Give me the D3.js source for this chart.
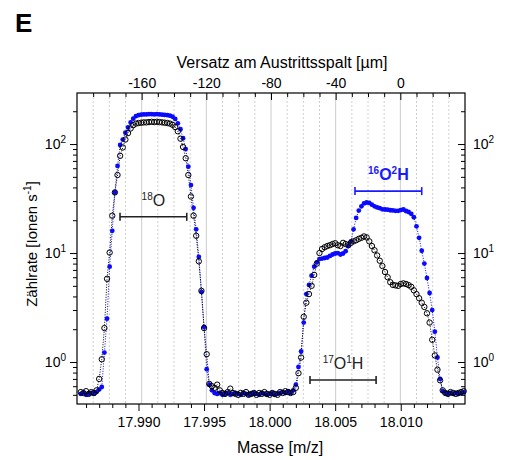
<!DOCTYPE html>
<html>
<head>
<meta charset="utf-8">
<script src="https://cdn.jsdelivr.net/npm/d3@7"></script>
<style>
body { margin: 0; background: #fff; }
text { font-family: "Liberation Sans", Arial, sans-serif; fill: #000; }
</style>
</head>
<body>
<svg id="chart" width="508" height="460"></svg>
<script>
// scan positions (mass, m/z)
var masses = [
  17.9856, 17.9858, 17.9860, 17.9862, 17.9864, 17.9866, 17.9868, 17.9870, 17.9872, 17.9874,
  17.9876, 17.9878, 17.9880, 17.9882, 17.9884, 17.9886, 17.9888, 17.9890, 17.9892, 17.9894,
  17.9896, 17.9898, 17.9900, 17.9902, 17.9904, 17.9906, 17.9908, 17.9910, 17.9912, 17.9914,
  17.9916, 17.9918, 17.9920, 17.9922, 17.9924, 17.9926, 17.9928, 17.9930, 17.9932, 17.9934,
  17.9936, 17.9938, 17.9940, 17.9942, 17.9944, 17.9946, 17.9948, 17.9950, 17.9952, 17.9954,
  17.9956, 17.9958, 17.9960, 17.9962, 17.9964, 17.9966, 17.9968, 17.9970, 17.9972, 17.9974,
  17.9976, 17.9978, 17.9980, 17.9982, 17.9984, 17.9986, 17.9988, 17.9990, 17.9992, 17.9994,
  17.9996, 17.9998, 18.0000, 18.0002, 18.0004, 18.0006, 18.0008, 18.0010, 18.0012, 18.0014,
  18.0016, 18.0018, 18.0020, 18.0022, 18.0024, 18.0026, 18.0028, 18.0030, 18.0032, 18.0034,
  18.0036, 18.0038, 18.0040, 18.0042, 18.0044, 18.0046, 18.0048, 18.0050, 18.0052, 18.0054,
  18.0056, 18.0058, 18.0060, 18.0062, 18.0064, 18.0066, 18.0068, 18.0070, 18.0072, 18.0074,
  18.0076, 18.0078, 18.0080, 18.0082, 18.0084, 18.0086, 18.0088, 18.0090, 18.0092, 18.0094,
  18.0096, 18.0098, 18.0100, 18.0102, 18.0104, 18.0106, 18.0108, 18.0110, 18.0112, 18.0114,
  18.0116, 18.0118, 18.0120, 18.0122, 18.0124, 18.0126, 18.0128, 18.0130, 18.0132, 18.0134,
  18.0136, 18.0138, 18.0140, 18.0142, 18.0144, 18.0146, 18.0148
]

// blue filled dots
var blueCounts = [
  0.51, 0.52, 0.50, 0.51, 0.52, 0.51, 0.53, 0.56, 0.59, 1.22,
  2.5, 7.5, 16, 36, 63, 98, 110, 127, 142, 158,
  171, 180, 184, 186, 187, 187, 188, 188, 187, 188,
  187, 186, 185, 184, 182, 178, 170, 155, 137, 113,
  90, 62, 42, 26, 16.5, 9.2, 4.4, 2.1, 0.86, 0.62,
  0.55, 0.52, 0.51, 0.52, 0.50, 0.51, 0.52, 0.50, 0.51, 0.52,
  0.51, 0.50, 0.52, 0.51, 0.50, 0.51, 0.52, 0.51, 0.50, 0.52,
  0.51, 0.50, 0.51, 0.52, 0.50, 0.51, 0.52, 0.53, 0.52, 0.54,
  0.52, 0.55, 0.62, 0.9, 1.25, 2.3, 4.2, 5.1, 6.2, 7.5,
  8.2, 8.8, 8.9, 9.0, 9.1, 9.4, 9.7, 9.9, 10.0, 9.7,
  9.9, 10.4, 11.6, 12.8, 16.5, 21, 24.5, 26.8, 28.5, 29.1,
  28.8, 27.8, 26.8, 26.2, 25.8, 25.2, 25.1, 25.0, 24.7, 24.6,
  24.4, 24.4, 24.8, 25.1, 24.3, 23.8, 22.9, 21.3, 17.6, 13.8,
  10.5, 8.0, 5.9, 4.3, 3.0, 1.9, 1.1, 0.7, 0.54, 0.52,
  0.51, 0.52, 0.51, 0.52, 0.51, 0.52, 0.53
]

// black open circles
var blackCounts = [
  0.53, 0.52, 0.54, 0.51, 0.53, 0.52, 0.55, 0.70, 1.06, 2.05,
  5.8, 10.1, 22, 36, 52, 78, 93, 110, 126, 139,
  149, 154, 156, 157, 158, 158, 159, 160, 159, 160,
  159, 158, 157, 156, 154, 150, 143, 131, 112, 94,
  74, 52, 33, 22, 14.4, 8.4, 4.5, 2.05, 1.18, 0.63,
  0.60, 0.58, 0.62, 0.55, 0.52, 0.51, 0.53, 0.57, 0.52, 0.51,
  0.50, 0.52, 0.51, 0.53, 0.50, 0.51, 0.52, 0.50, 0.52, 0.51,
  0.53, 0.51, 0.50, 0.52, 0.51, 0.50, 0.53, 0.52, 0.54, 0.53,
  0.52, 0.53, 0.58, 0.79, 1.1, 2.6, 3.5, 4.2, 5.0, 6.3,
  8.0, 10.0, 10.9, 11.3, 11.6, 11.8, 12.1, 12.3, 11.8, 11.6,
  12.4, 12.1, 11.8, 12.4, 12.8, 13.1, 13.5, 13.8, 14.2, 13.9,
  12.8, 11.6, 10.6, 9.5, 8.5, 7.6, 6.7, 6.0, 5.4, 5.1,
  5.05, 5.0, 5.2, 5.27, 5.2, 5.08, 4.9, 4.55, 4.2, 3.85,
  3.5, 3.2, 2.8, 2.3, 1.6, 1.15, 0.85, 0.68, 0.55, 0.52,
  0.51, 0.53, 0.52, 0.51, 0.52, 0.53, 0.54
]

var massTicks = [17.990, 17.995, 18.000, 18.005, 18.010]
var massMinorTicks = [17.986, 17.987, 17.988, 17.989, 17.991, 17.992, 17.993, 17.994,
  17.996, 17.997, 17.998, 17.999, 18.001, 18.002, 18.003, 18.004,
  18.006, 18.007, 18.008, 18.009, 18.011, 18.012, 18.013, 18.014]
var offsetTicks = [-160, -120, -80, -40, 0]
var offsetMinorTicks = [-190, -180, -170, -150, -140, -130, -110, -100, -90,
  -70, -60, -50, -30, -20, -10, 10, 20, 30]
var countTicks = [1, 10, 100]
var countMinorTicks = [0.5, 0.6, 0.7, 0.8, 0.9, 2, 3, 4, 5, 6, 7, 8, 9,
  20, 30, 40, 50, 60, 70, 80, 90, 200]

// peak markers: label parts [sup, base, sup, base], mass range, level
var peakNames = [["18", "O", "", ""], ["16", "O", "2", "H"], ["17", "O", "1", "H"]]
var peakFrom = [17.98859, 18.00651, 18.00308]
var peakTo = [17.99368, 18.01160, 18.00812]
var peakLevel = [21.5, 37, 0.684]
var peakColor = ["#222", "#1a1aff", "#222"]
var peakBold = [false, true, false]

var svg = d3.select("#chart")
var L = 77, R = 465, T = 93, B = 404
var blue = "#0a0aff"

var x = d3.scaleLinear().domain([17.98531, 18.01490]).range([L, R])
var xTop = d3.scaleLinear().domain([-200, 40]).range([L, R])
var y = d3.scaleLog().domain([0.412, 294]).range([B, T])

// vertical grid at the offset ticks
svg.append("g").selectAll("line").data(offsetMinorTicks).enter().append("line")
  .attr("x1", d => xTop(d)).attr("x2", d => xTop(d))
  .attr("y1", T).attr("y2", B)
  .attr("stroke", "#cfcfcf").attr("stroke-width", 1).attr("stroke-dasharray", "2,2")
svg.append("g").selectAll("line").data(offsetTicks).enter().append("line")
  .attr("x1", d => xTop(d)).attr("x2", d => xTop(d))
  .attr("y1", T).attr("y2", B)
  .attr("stroke", "#cccccc").attr("stroke-width", 1)

// bottom axis (mass)
svg.append("g").attr("transform", "translate(0," + B + ")")
  .call(d3.axisBottom(x).tickValues(massMinorTicks).tickFormat("").tickSize(4).tickSizeOuter(0))
svg.append("g").attr("transform", "translate(0," + B + ")")
  .call(d3.axisBottom(x).tickValues(massTicks).tickFormat(d3.format(".3f")).tickSize(7).tickSizeOuter(0).tickPadding(6))
  .selectAll("text").style("font-size", "14px")

// top axis (offset), ticks pointing inside
svg.append("g").attr("transform", "translate(0," + T + ")")
  .call(d3.axisTop(xTop).tickValues(offsetMinorTicks).tickFormat("").tickSize(-4).tickSizeOuter(0))
svg.append("g").attr("transform", "translate(0," + T + ")")
  .call(d3.axisTop(xTop).tickValues(offsetTicks).tickFormat(d => String(d)).tickSize(-7).tickSizeOuter(0).tickPadding(5))
  .selectAll("text").style("font-size", "14px")

// left axis
svg.append("g").attr("transform", "translate(" + L + ",0)")
  .call(d3.axisLeft(y).tickValues(countMinorTicks).tickFormat("").tickSize(4).tickSizeOuter(0))
svg.append("g").attr("transform", "translate(" + L + ",0)")
  .call(d3.axisLeft(y).tickValues(countTicks).tickFormat("").tickSize(7).tickSizeOuter(0))
// right axis, ticks pointing inside
svg.append("g").attr("transform", "translate(" + R + ",0)")
  .call(d3.axisRight(y).tickValues(countMinorTicks).tickFormat("").tickSize(-4).tickSizeOuter(0))
svg.append("g").attr("transform", "translate(" + R + ",0)")
  .call(d3.axisRight(y).tickValues(countTicks).tickFormat("").tickSize(-7).tickSizeOuter(0))

svg.selectAll(".domain").remove()
svg.selectAll(".tick line").attr("stroke", "#000")

function powerLabel(sel) {
  sel.append("tspan").text("10").style("font-size", "14px")
  sel.append("tspan").text(d => Math.round(Math.log10(d)))
    .style("font-size", "10px").attr("dy", -6)
}
svg.append("g").selectAll("text").data(countTicks).enter().append("text")
  .attr("x", 66).attr("y", d => y(d) + 5).attr("text-anchor", "end")
  .call(powerLabel)
svg.append("g").selectAll("text").data(countTicks).enter().append("text")
  .attr("x", 473).attr("y", d => y(d) + 5).attr("text-anchor", "start")
  .call(powerLabel)

// frame
svg.append("rect").attr("x", L).attr("y", T).attr("width", R - L).attr("height", B - T)
  .attr("fill", "none").attr("stroke", "#000").attr("stroke-width", 1.2)

// data
var line = d3.line().x(d => x(d[0])).y(d => y(d[1]))
var blueData = masses.map((m, i) => [m, blueCounts[i]])
var blackData = masses.map((m, i) => [m, blackCounts[i]])

svg.append("path").datum(blueData).attr("d", line)
  .attr("fill", "none").attr("stroke", blue).attr("stroke-width", 1).attr("stroke-dasharray", "1,1.5")
svg.append("path").datum(blackData).attr("d", line)
  .attr("fill", "none").attr("stroke", "#000").attr("stroke-width", 1).attr("stroke-dasharray", "1,1.5")

svg.append("g").selectAll("circle").data(blueData).enter().append("circle")
  .attr("cx", d => x(d[0])).attr("cy", d => y(d[1])).attr("r", 2.4)
  .attr("fill", blue)
svg.append("g").selectAll("circle").data(blackData).enter().append("circle")
  .attr("cx", d => x(d[0])).attr("cy", d => y(d[1])).attr("r", 2.7)
  .attr("fill", "none").attr("stroke", "#000").attr("stroke-width", 1)

// peak ranges with labels
peakNames.forEach(function(parts, i) {
  var x1 = x(peakFrom[i]), x2 = x(peakTo[i]), yy = y(peakLevel[i])
  var g = svg.append("g").attr("stroke", peakColor[i]).attr("stroke-width", 1.6)
  g.append("line").attr("x1", x1).attr("x2", x2).attr("y1", yy).attr("y2", yy)
  g.append("line").attr("x1", x1).attr("x2", x1).attr("y1", yy - 4).attr("y2", yy + 4)
  g.append("line").attr("x1", x2).attr("x2", x2).attr("y1", yy - 4).attr("y2", yy + 4)

  var t = svg.append("text").attr("x", (x1 + x2) / 2).attr("y", yy - 11)
    .attr("text-anchor", "middle")
    .style("fill", peakColor[i])
    .style("font-weight", peakBold[i] ? "bold" : "normal")
  t.append("tspan").text(parts[0]).style("font-size", "10px").attr("dy", -6)
  t.append("tspan").text(parts[1]).style("font-size", "16px").attr("dy", 6)
  if (parts[2]) {
    t.append("tspan").text(parts[2]).style("font-size", "10px").attr("dy", -6)
    t.append("tspan").text(parts[3]).style("font-size", "16px").attr("dy", 6)
  }
})

// titles
svg.append("text").attr("x", 282).attr("y", 68).attr("text-anchor", "middle")
  .style("font-size", "16px").text("Versatz am Austrittsspalt [µm]")
svg.append("text").attr("x", 280).attr("y", 453).attr("text-anchor", "middle")
  .style("font-size", "16px").text("Masse [m/z]")
var yl = svg.append("text").attr("transform", "translate(37,244) rotate(-90)")
  .attr("text-anchor", "middle").style("font-size", "15px")
yl.append("tspan").text("Zählrate [Ionen s")
yl.append("tspan").text("-1").style("font-size", "10px").attr("dy", -6)
yl.append("tspan").text("]").attr("dy", 6)

svg.append("text").attr("x", 15).attr("y", 32)
  .style("font-size", "26px").style("font-weight", "bold").text("E")
</script>
</body>
</html>
